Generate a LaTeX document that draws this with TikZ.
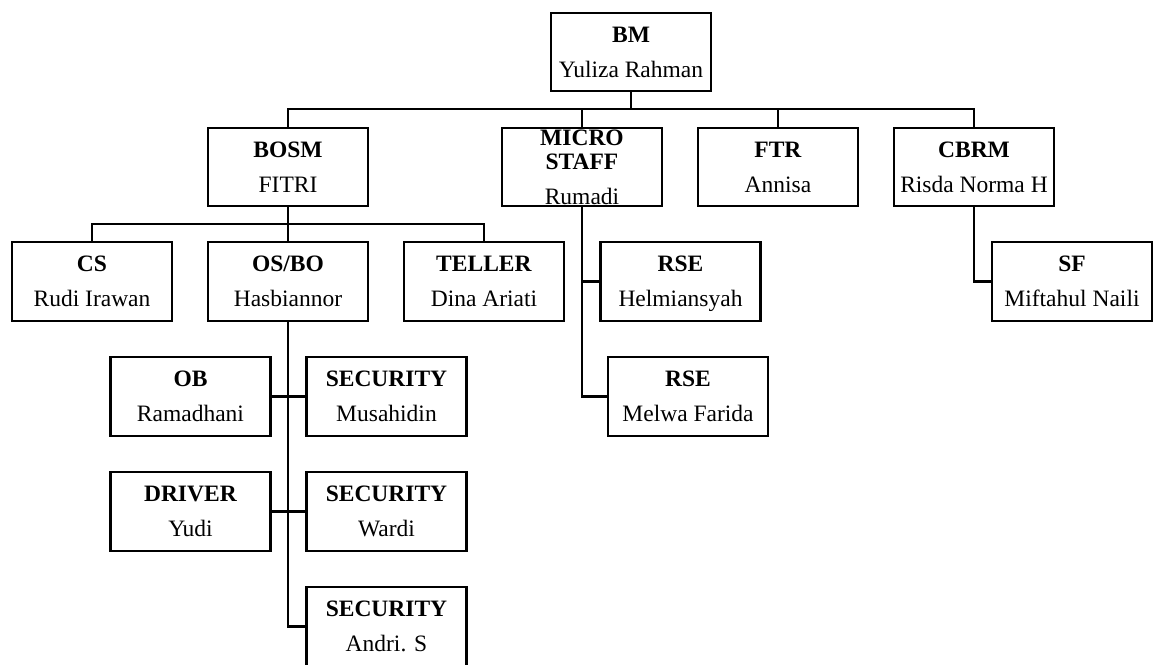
\documentclass[tikz,border=0pt]{standalone}
\usepackage{fontspec}
\setmainfont{Liberation Serif}
\begin{document}
\begin{tikzpicture}[x=1pt,y=-1pt,
  post/.style={draw=black, line width=2.4pt, minimum width=160pt, minimum height=78.5pt,
    inner sep=0pt, align=center, font=\fontsize{23.5}{35}\selectfont,
    text height=50.5pt, text depth=0pt},
  link/.style={draw=black, line width=2.4pt}]
\clip (0,0) rectangle (1156,664);
\fill[white] (0,0) rectangle (1156,664);
% top
\node[post] (bm) at (631,52) {\textbf{BM}\\Yuliza Rahman};
% level 1
\node[post] (bosm) at (288,167) {\textbf{BOSM}\\FITRI};
\node[post, text height=74.5pt] (micro) at (582,167) {\textbf{MICRO}\\[-11pt]\textbf{STAFF}\\Rumadi};
\node[post] (ftr) at (778,167) {\textbf{FTR}\\Annisa};
\node[post] (cbrm) at (974,167) {\textbf{CBRM}\\Risda Norma H};
% level 2
\node[post] (cs) at (92,281.5) {\textbf{CS}\\Rudi Irawan};
\node[post] (osbo) at (288,281.5) {\textbf{OS/BO}\\Hasbiannor};
\node[post] (teller) at (484,281.5) {\textbf{TELLER}\\Dina Ariati};
\node[post] (rse1) at (680.5,281.5) {\textbf{RSE}\\Helmiansyah};
\node[post] (sf) at (1072,281.5) {\textbf{SF}\\Miftahul Naili};
\node[post] (rse2) at (688,396.5) {\textbf{RSE}\\Melwa Farida};
% under OS/BO
\node[post] (ob) at (190.5,396.5) {\textbf{OB}\\Ramadhani};
\node[post] (sec1) at (386.5,396.5) {\textbf{SECURITY}\\Musahidin};
\node[post] (driver) at (190.5,511.5) {\textbf{DRIVER}\\Yudi};
\node[post] (sec2) at (386.5,511.5) {\textbf{SECURITY}\\Wardi};
\node[post] (sec3) at (386.5,626.5) {\textbf{SECURITY}\\Andri. S};
% buses
\coordinate (bus) at (631,109);
\coordinate (bus2) at (288,224);
\draw[link] (bm.south) -- (bus);
\draw[link] (bosm.north) |- (bus) -| (cbrm.north);
\draw[link] (micro.north) -- (micro.north |- bus);
\draw[link] (ftr.north) -- (ftr.north |- bus);
\draw[link] (bosm.south) -- (osbo.north);
\draw[link] (cs.north) |- (bus2) -| (teller.north);
\draw[link] (osbo.south) |- (sec3.west);
\draw[link] (ob.east) -- (sec1.west);
\draw[link] (driver.east) -- (sec2.west);
\draw[link] (micro.south) |- (rse2.west);
\draw[link] (micro.south |- rse1.west) -- (rse1.west);
\draw[link] (cbrm.south) |- (sf.west);
\end{tikzpicture}
\end{document}
